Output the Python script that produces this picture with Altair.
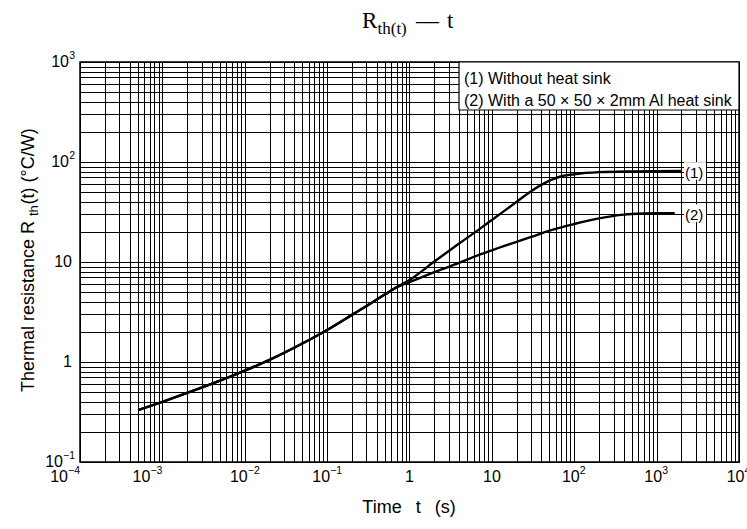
import altair as alt
import pandas as pd

# ---------------- data ----------------
# shared part of both curves (they coincide below ~0.7 s)
t_common = [5.1e-4, 1e-3, 2e-3, 5e-3, 1e-2, 2e-2, 5e-2, 0.1, 0.2, 0.33, 0.5, 0.7]
r_common = [0.33, 0.40, 0.49, 0.65, 0.82, 1.05, 1.53, 2.09, 2.96, 3.81, 4.72, 5.6]
# (1) without heat sink
t_1 = [1, 2, 4, 7, 10, 20, 30, 50, 70, 100, 200, 500, 1000, 2000]
r_1 = [6.6, 10.1, 15.3, 21.2, 26.3, 40, 51, 65, 72, 75.5, 79.2, 80.6, 81.1, 81.3]
# (2) with a 50x50x2mm Al heat sink
t_2 = [1, 2, 4, 7, 10, 20, 30, 50, 100, 200, 400, 700, 1000, 1660]
r_2 = [6.3, 7.9, 9.8, 11.8, 13.1, 15.9, 17.8, 20.6, 24, 27.3, 29.8, 30.6, 30.8, 30.8]

series_names = ["(1)", "(2)"]
legend_lines = ["(1) Without heat sink", "(2) With a 50 \u00d7 50 \u00d7 2mm Al heat sink"]

x_decades = list(range(-4, 5))   # 10^-4 .. 10^4
y_decades = list(range(-1, 4))   # 10^-1 .. 10^3

# ---------------- tables ----------------
rows = []
for name, ts, rs in [(series_names[0], t_1, r_1), (series_names[1], t_2, r_2)]:
    for t, r in zip(t_common + ts, r_common + rs):
        rows.append({"series": name, "t": t, "r": r})
df = pd.DataFrame(rows)
df_end = df.sort_values("t").groupby("series").tail(1)

x_grid = [m * 10.0 ** e for e in x_decades[:-1] for m in range(1, 10)] + [10.0 ** x_decades[-1]]
y_grid = [m * 10.0 ** e for e in y_decades[:-1] for m in range(1, 10)] + [10.0 ** y_decades[-1]]


def dec_table(decades):
    recs = []
    for e in decades:
        base = "1" if e == 0 else "10"
        exp = "" if e in (0, 1) else str(e).replace("-", "\u2212")
        recs.append({"value": 10.0 ** e, "e": e, "base": base, "exp": exp})
    return pd.DataFrame(recs)


x_dec = dec_table(x_decades)
y_dec = dec_table(y_decades)

FONT = "Liberation Sans"
SERIF = "Liberation Serif"
BASE_FS = 16
EXP_FS = 10.5

xscale = alt.Scale(type="log", domain=[1e-4, 1e4], nice=False)
yscale = alt.Scale(type="log", domain=[0.1, 1000], nice=False)

xaxis = alt.Axis(
    values=x_grid, labels=False, title=None,
    grid=True, gridColor="#000000", gridWidth=1, gridOpacity=1,
    domain=False, ticks=False,
)
yaxis = alt.Axis(
    values=y_grid, labels=False, title=None,
    grid=True, gridColor="#000000", gridWidth=1, gridOpacity=1,
    domain=False, ticks=False,
)

lines = alt.Chart(df).mark_line(color="black", strokeWidth=2.4, interpolate="monotone").encode(
    x=alt.X("t:Q", scale=xscale, axis=xaxis),
    y=alt.Y("r:Q", scale=yscale, axis=yaxis),
    detail="series:N",
)

# ---- tick labels: "10" with a raised exponent ----
X_LABEL_Y = 415
def x_label_layers(es, base_align, base_dx, exp_dx):
    src = alt.Chart(x_dec).transform_filter(alt.FieldOneOfPredicate(field="e", oneOf=es))
    base = src.mark_text(align=base_align, baseline="middle", fontSize=BASE_FS, font=FONT,
                         color="black", dx=base_dx).encode(
        x=alt.X("value:Q", scale=xscale), y=alt.value(X_LABEL_Y), text="base:N")
    exp = src.mark_text(align="left", baseline="middle", fontSize=EXP_FS, font=FONT,
                        color="black", dx=exp_dx).encode(
        x=alt.X("value:Q", scale=xscale), y=alt.value(X_LABEL_Y - 6), text="exp:N")
    return [base, exp]


def y_label_layers(es, base_dx, exp_dx):
    src = alt.Chart(y_dec).transform_filter(alt.FieldOneOfPredicate(field="e", oneOf=es))
    base = src.mark_text(align="right", baseline="middle", fontSize=BASE_FS, font=FONT,
                         color="black", dx=base_dx).encode(
        x=alt.value(0), y=alt.Y("value:Q", scale=yscale), text="base:N")
    exp = src.mark_text(align="right", baseline="middle", fontSize=EXP_FS, font=FONT,
                        color="black", dx=exp_dx, dy=-6).encode(
        x=alt.value(0), y=alt.Y("value:Q", scale=yscale), text="exp:N")
    return [base, exp]


tick_layers = []
tick_layers += x_label_layers([-4, -3], "right", -12, -12)
tick_layers += x_label_layers([-2, -1], "right", 3, 3)
tick_layers += x_label_layers([0, 1], "center", 0, 0)
tick_layers += x_label_layers([2, 3, 4], "right", 5.5, 5.5)
tick_layers += y_label_layers([-1], -17, -5)
tick_layers += y_label_layers([2, 3], -11, -5)
tick_layers += y_label_layers([0, 1], -8, -8)

end_boxes = alt.Chart(df_end).mark_point(
    shape="M-1,-0.8L1,-0.8L1,0.8L-1,0.8Z", size=484, filled=True,
    color="white", opacity=1, strokeWidth=0,
).encode(x=alt.value(615), y=alt.Y("r:Q", scale=yscale))

end_labels = alt.Chart(df_end).mark_text(
    align="left", baseline="middle", fontSize=15, font=FONT, color="black", dy=2
).encode(x=alt.value(605), y=alt.Y("r:Q", scale=yscale), text="series:N")

one = pd.DataFrame({"a": [0]})

legend_box = alt.Chart(one).mark_rect(fill="white", stroke="black", strokeWidth=1.2).encode(
    x=alt.value(379), x2=alt.value(659), y=alt.value(0), y2=alt.value(48)
)
legend_t1 = alt.Chart(one).mark_text(
    align="left", baseline="alphabetic", fontSize=16, font=FONT, color="black", text=legend_lines[0]
).encode(x=alt.value(384), y=alt.value(22))
legend_t2 = alt.Chart(one).mark_text(
    align="left", baseline="alphabetic", fontSize=16, font=FONT, color="black", text=legend_lines[1]
).encode(x=alt.value(384), y=alt.value(43.5))

# chart title  R_th(t) — t
def ttext(txt, x, y, fs, font=SERIF, **kw):
    return alt.Chart(one).mark_text(
        align="left", baseline="alphabetic", fontSize=fs, font=font, color="black", text=txt, **kw
    ).encode(x=alt.value(x), y=alt.value(y))


title_layers = [
    ttext("R", 282, -34, 23),
    ttext("th(t)", 297.5, -28.5, 17),
    ttext("\u2014", 336, -34, 23),
    ttext("t", 367, -34, 23),
]

# y axis title  Thermal resistance  R_th(t)  (°C/W)
ytitle_layers = [
    ttext("Thermal resistance  R", -46.5, 330, 18, font=FONT, angle=270),
    ttext("th", -42.5, 154, 13, font=FONT, angle=270),
    ttext("(t)    (\u00b0C/W)", -46.5, 142.5, 18, font=FONT, angle=270),
]

# x axis title
xtitle = alt.Chart(one).mark_text(
    align="center", baseline="alphabetic", fontSize=18, font=FONT, color="black",
    text="Time\u2002 t\u2002 (s)",
).encode(x=alt.value(329), y=alt.value(451))

chart = alt.layer(
    lines, *tick_layers, end_boxes, end_labels, legend_box, legend_t1, legend_t2,
    *title_layers, *ytitle_layers, xtitle,
).properties(
    width=659, height=400,
    padding={"left": 80, "top": 62, "right": 8, "bottom": 67},
    autosize=alt.AutoSizeParams(type="none"),
    background="white",
).configure_view(stroke="black", strokeWidth=1.5)

chart.save("out.html", embed_options={"renderer": "svg", "actions": False})
